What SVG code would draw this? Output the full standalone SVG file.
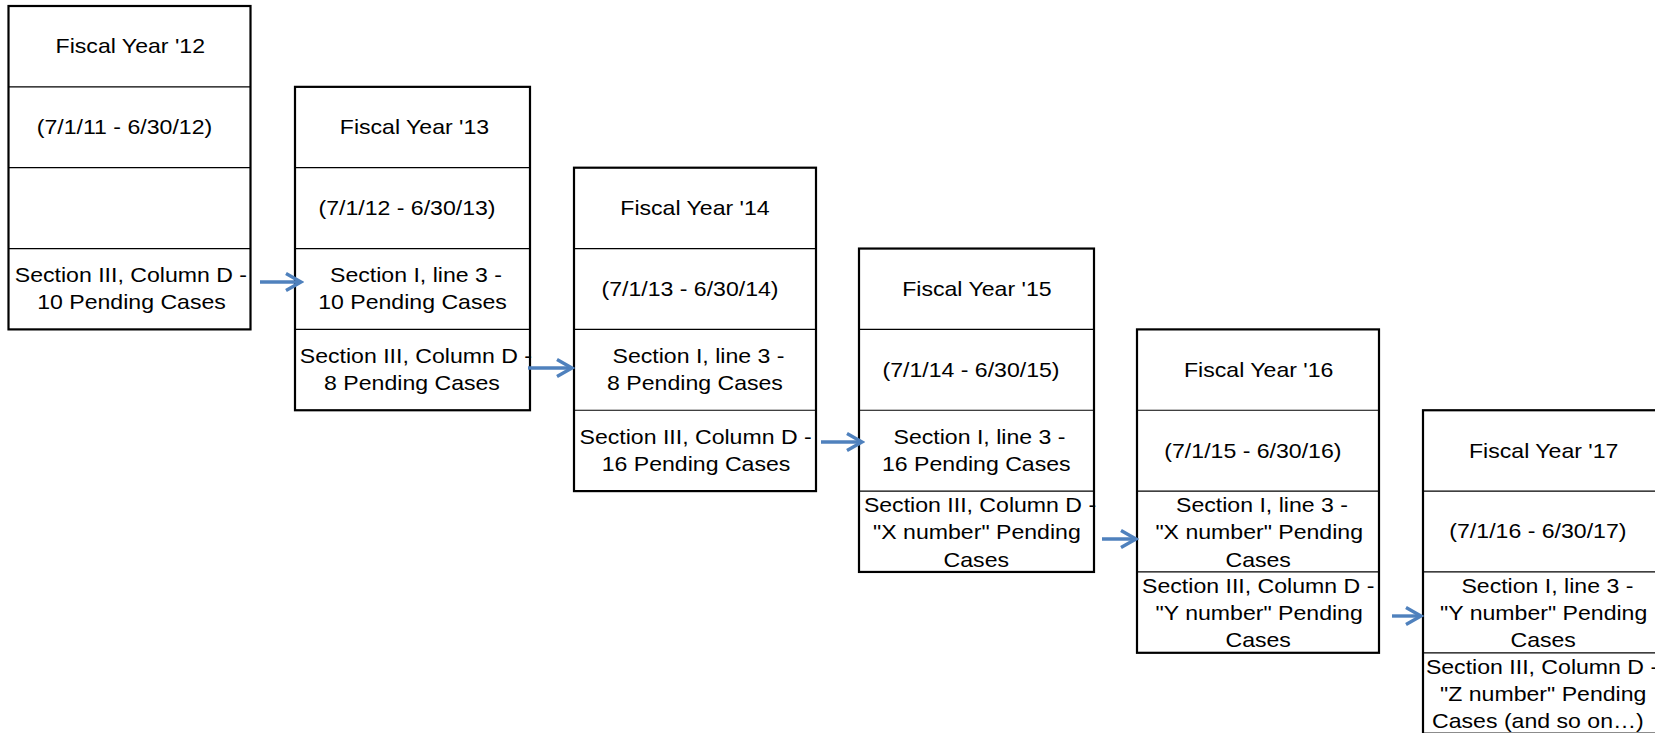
<svg xmlns="http://www.w3.org/2000/svg" width="1655" height="733" viewBox="0 0 1655 733">
<defs>
<style>
.box{fill:#fff;stroke:#000;stroke-width:2.2}
.div{stroke:#000;stroke-width:1.2}
.t{font-family:"Liberation Sans",Arial,sans-serif;font-size:20px;fill:#000;text-anchor:middle}
.arr{stroke:#4F81BD;stroke-width:3.4;fill:none}
</style>
<marker id="ah" markerUnits="userSpaceOnUse" markerWidth="20" markerHeight="22" viewBox="0 0 20 22" refX="17" refY="11" orient="auto">
<path d="M2,2.5 L17,11 L2,19.5" fill="none" stroke="#4F81BD" stroke-width="3.4"/>
</marker>
</defs>
<rect width="1655" height="733" fill="#fff"/>

<g id="fy12">
<rect class="box" x="8.5" y="6" width="242" height="323.4"/>
<line class="div" x1="8.5" y1="86.85" x2="250.5" y2="86.85"/>
<line class="div" x1="8.5" y1="167.7" x2="250.5" y2="167.7"/>
<line class="div" x1="8.5" y1="248.55" x2="250.5" y2="248.55"/>
<text class="t" transform="translate(130.3,53.2) scale(1.155,1)">Fiscal Year '12</text>
<text class="t" transform="translate(124.5,134.1) scale(1.155,1)">(7/1/11 - 6/30/12)</text>
<text class="t" transform="translate(130.9,282) scale(1.155,1)">Section III, Column D -</text>
<text class="t" transform="translate(131.5,309.4) scale(1.155,1)">10 Pending Cases</text>
</g>

<g id="fy13">
<rect class="box" x="295" y="86.85" width="235" height="323.4"/>
<line class="div" x1="295" y1="167.7" x2="530" y2="167.7"/>
<line class="div" x1="295" y1="248.55" x2="530" y2="248.55"/>
<line class="div" x1="295" y1="329.4" x2="530" y2="329.4"/>
<text class="t" transform="translate(414.5,134.1) scale(1.155,1)">Fiscal Year '13</text>
<text class="t" transform="translate(407,214.9) scale(1.155,1)">(7/1/12 - 6/30/13)</text>
<text class="t" transform="translate(416,282) scale(1.155,1)">Section I, line 3 -</text>
<text class="t" transform="translate(412.5,309.4) scale(1.155,1)">10 Pending Cases</text>
<text class="t" transform="translate(415.9,362.8) scale(1.155,1)">Section III, Column D -</text>
<text class="t" transform="translate(412,390.2) scale(1.155,1)">8 Pending Cases</text>
</g>

<g id="fy14">
<rect class="box" x="574" y="167.7" width="242" height="323.4"/>
<line class="div" x1="574" y1="248.55" x2="816" y2="248.55"/>
<line class="div" x1="574" y1="329.4" x2="816" y2="329.4"/>
<line class="div" x1="574" y1="410.25" x2="816" y2="410.25"/>
<text class="t" transform="translate(695,214.9) scale(1.155,1)">Fiscal Year '14</text>
<text class="t" transform="translate(690,295.8) scale(1.155,1)">(7/1/13 - 6/30/14)</text>
<text class="t" transform="translate(698.5,362.8) scale(1.155,1)">Section I, line 3 -</text>
<text class="t" transform="translate(695,390.2) scale(1.155,1)">8 Pending Cases</text>
<text class="t" transform="translate(695.6,443.7) scale(1.155,1)">Section III, Column D -</text>
<text class="t" transform="translate(696,471.1) scale(1.155,1)">16 Pending Cases</text>
</g>

<g id="fy15">
<rect class="box" x="859" y="248.55" width="235" height="323.4"/>
<line class="div" x1="859" y1="329.4" x2="1094" y2="329.4"/>
<line class="div" x1="859" y1="410.25" x2="1094" y2="410.25"/>
<line class="div" x1="859" y1="491.1" x2="1094" y2="491.1"/>
<text class="t" transform="translate(976.9,295.8) scale(1.155,1)">Fiscal Year '15</text>
<text class="t" transform="translate(971,376.6) scale(1.155,1)">(7/1/14 - 6/30/15)</text>
<text class="t" transform="translate(979.5,443.7) scale(1.155,1)">Section I, line 3 -</text>
<text class="t" transform="translate(976.3,471.1) scale(1.155,1)">16 Pending Cases</text>
<text class="t" transform="translate(980,511.9) scale(1.155,1)">Section III, Column D -</text>
<text class="t" transform="translate(976.9,539.2) scale(1.155,1)">"X number" Pending</text>
<text class="t" transform="translate(976.3,566.5) scale(1.155,1)">Cases</text>
</g>

<g id="fy16">
<rect class="box" x="1137" y="329.4" width="242" height="323.4"/>
<line class="div" x1="1137" y1="410.25" x2="1379" y2="410.25"/>
<line class="div" x1="1137" y1="491.1" x2="1379" y2="491.1"/>
<line class="div" x1="1137" y1="571.95" x2="1379" y2="571.95"/>
<text class="t" transform="translate(1258.7,376.6) scale(1.155,1)">Fiscal Year '16</text>
<text class="t" transform="translate(1252.9,457.5) scale(1.155,1)">(7/1/15 - 6/30/16)</text>
<text class="t" transform="translate(1262,511.9) scale(1.155,1)">Section I, line 3 -</text>
<text class="t" transform="translate(1259.2,539.2) scale(1.155,1)">"X number" Pending</text>
<text class="t" transform="translate(1258.2,566.5) scale(1.155,1)">Cases</text>
<text class="t" transform="translate(1258.2,592.8) scale(1.155,1)">Section III, Column D -</text>
<text class="t" transform="translate(1259.2,620.1) scale(1.155,1)">"Y number" Pending</text>
<text class="t" transform="translate(1258.2,647.4) scale(1.155,1)">Cases</text>
</g>

<g id="fy17">
<rect class="box" x="1423" y="410.25" width="242" height="323.4"/>
<line class="div" x1="1423" y1="491.1" x2="1665" y2="491.1"/>
<line class="div" x1="1423" y1="571.95" x2="1665" y2="571.95"/>
<line class="div" x1="1423" y1="652.8" x2="1665" y2="652.8"/>
<text class="t" transform="translate(1543.7,457.5) scale(1.155,1)">Fiscal Year '17</text>
<text class="t" transform="translate(1537.9,538.3) scale(1.155,1)">(7/1/16 - 6/30/17)</text>
<text class="t" transform="translate(1547.4,592.8) scale(1.155,1)">Section I, line 3 -</text>
<text class="t" transform="translate(1543.7,620.1) scale(1.155,1)">"Y number" Pending</text>
<text class="t" transform="translate(1543.2,647.4) scale(1.155,1)">Cases</text>
<text class="t" transform="translate(1542,673.6) scale(1.155,1)">Section III, Column D -</text>
<text class="t" transform="translate(1543.2,700.9) scale(1.155,1)">"Z number" Pending</text>
<text class="t" transform="translate(1537.9,728.2) scale(1.155,1)">Cases (and so on…)</text>
</g>

<g id="connectors">
<line class="arr" x1="260" y1="282" x2="301" y2="282" marker-end="url(#ah)"/>
<line class="arr" x1="528" y1="368" x2="572" y2="368" marker-end="url(#ah)"/>
<line class="arr" x1="821" y1="442" x2="862" y2="442" marker-end="url(#ah)"/>
<line class="arr" x1="1102" y1="539" x2="1136" y2="539" marker-end="url(#ah)"/>
<line class="arr" x1="1392" y1="616" x2="1421" y2="616" marker-end="url(#ah)"/>
</g>
</svg>
